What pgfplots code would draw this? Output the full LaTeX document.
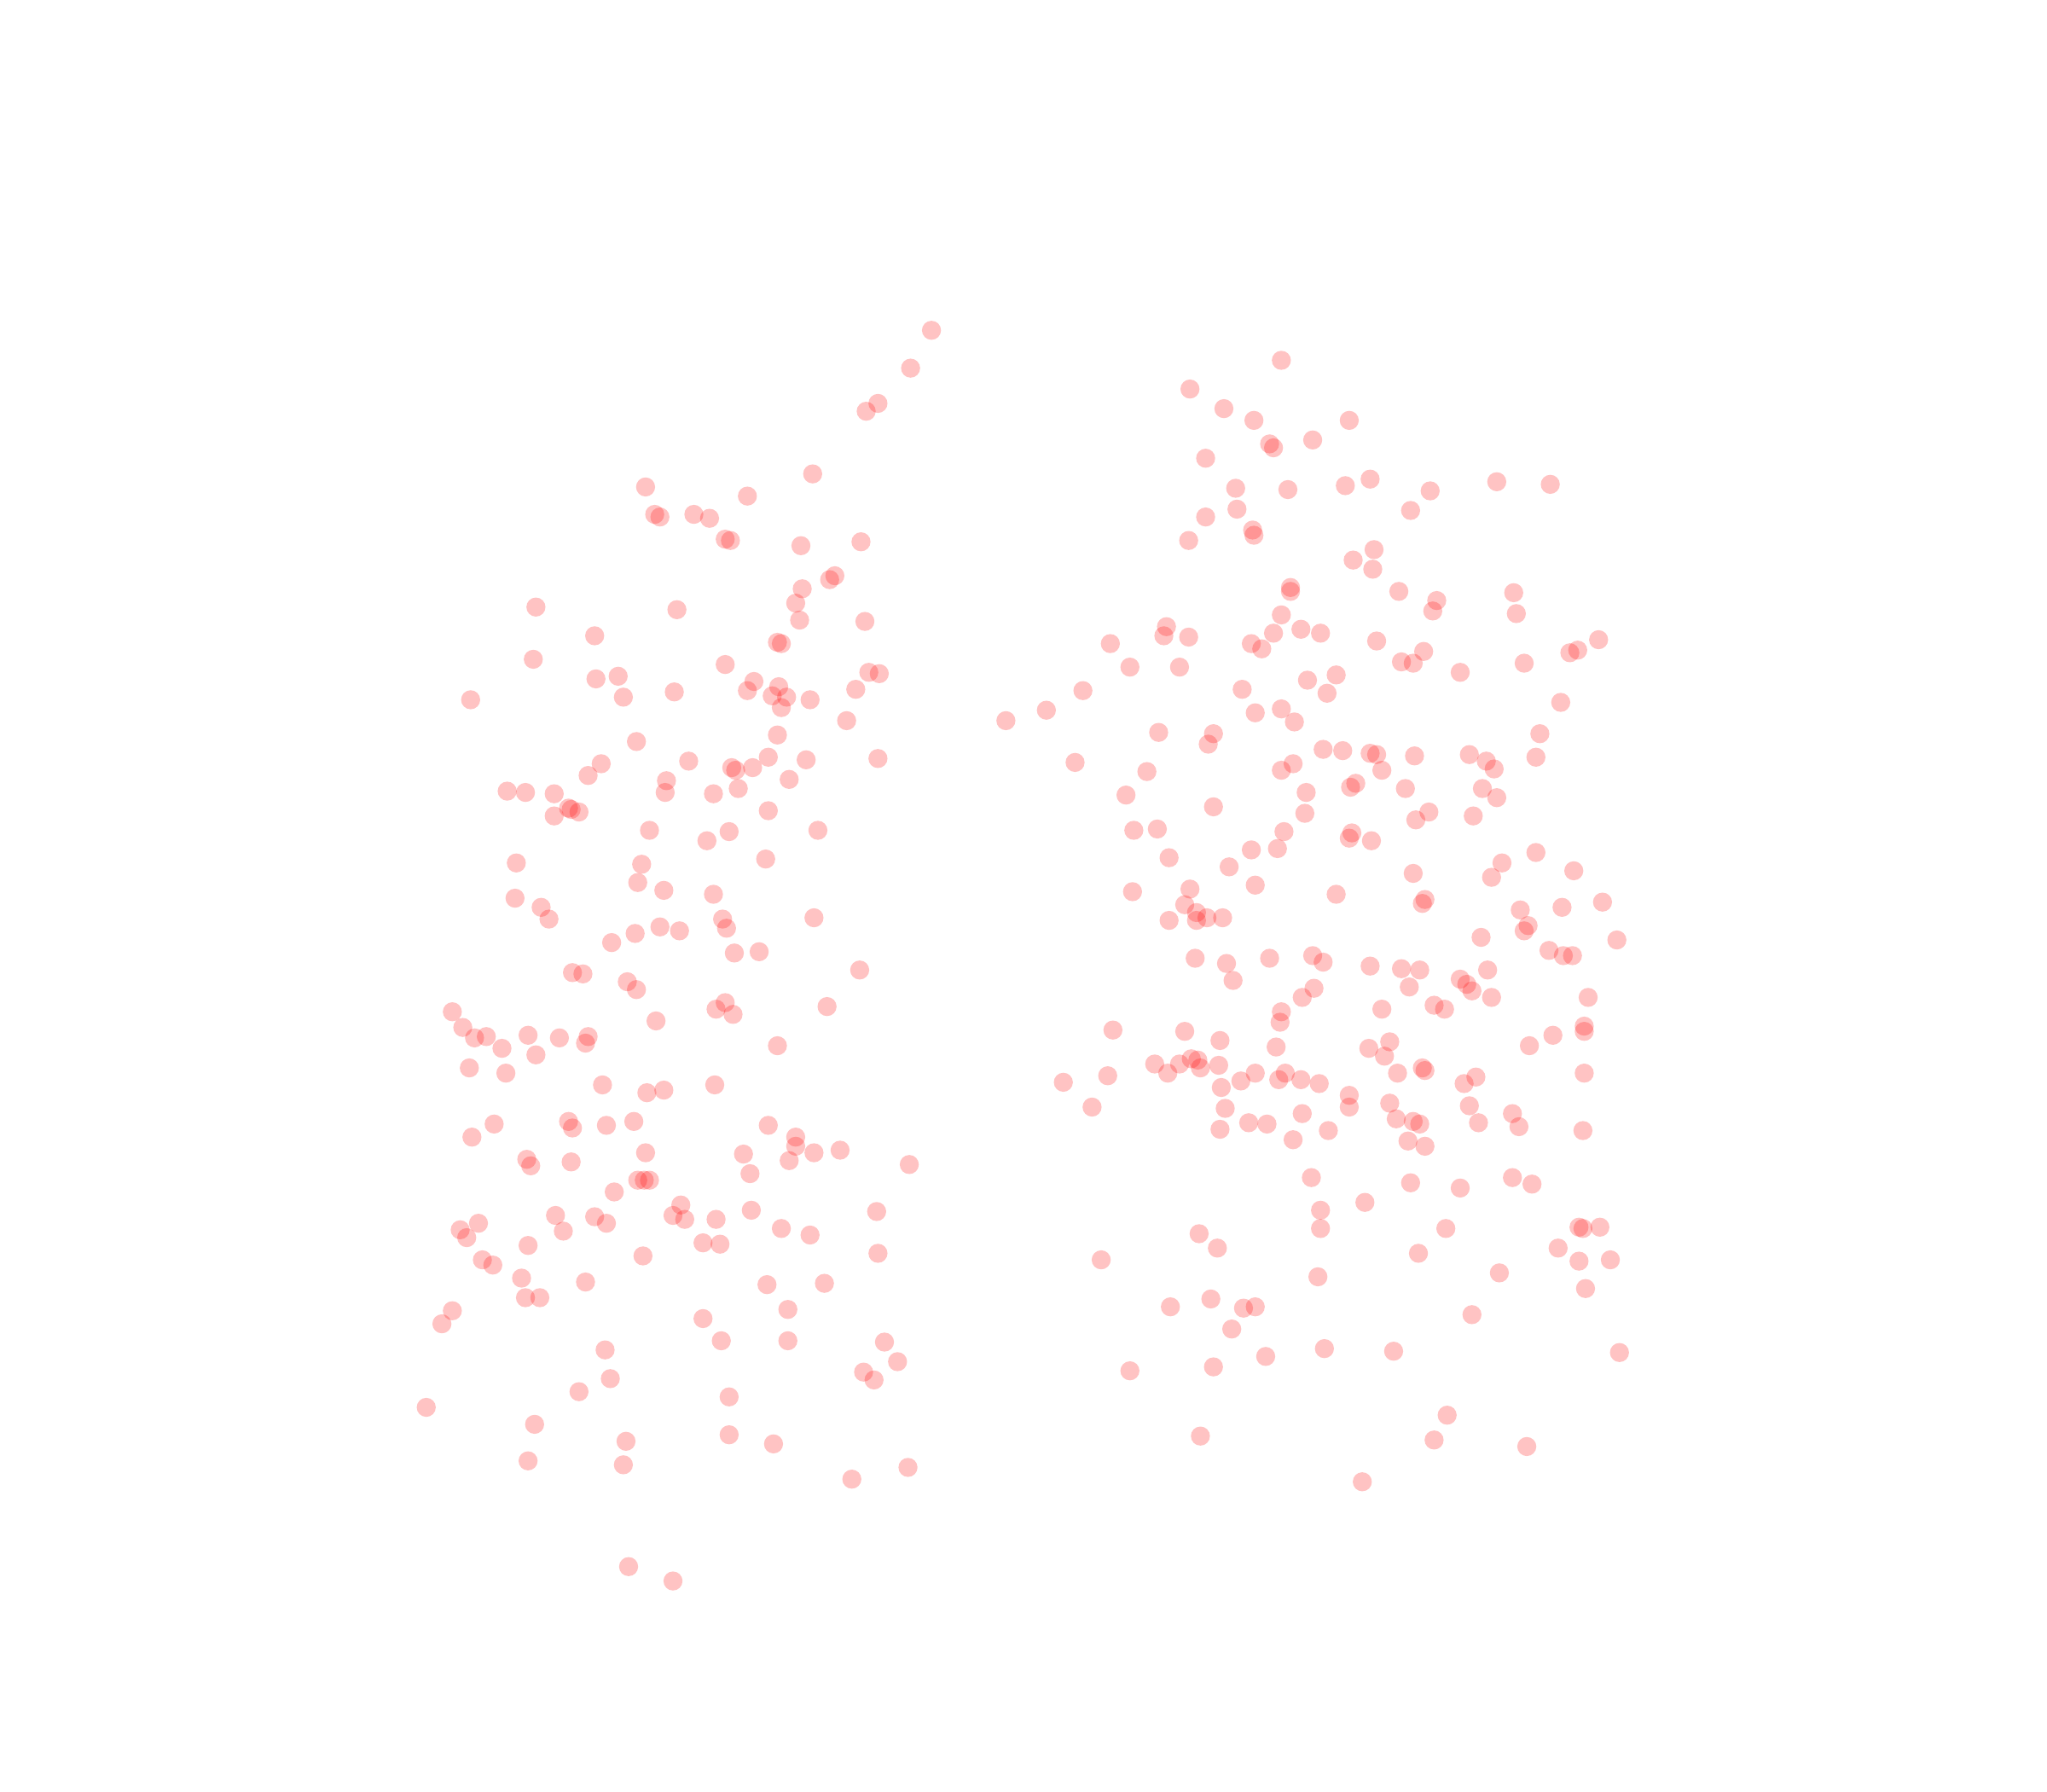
\documentclass[border=0pt]{standalone}
\usepackage{pgfplots}
\pgfplotsset{compat=1.18}
\begin{document}
\begin{tikzpicture}
\path[use as bounding box] (0,0) rectangle (16cm,14cm);
\begin{axis}[at={(0,0)},anchor=south west,width=16cm,height=14cm,scale only axis,hide axis,
 xmin=-0.5,xmax=1567.5,ymin=0,ymax=1372,y dir=reverse,clip=false]
\addplot[only marks,mark=*,mark size=2.12pt,mark options={draw opacity=0,fill=red,fill opacity=0.235}] table[row sep=crcr]{
713 253\\697 282\\672 309\\663 315\\622 363\\494 373\\572 380\\501 394\\505 396\\531 394\\543 397\\555 413\\559 414\\613 418\\659 415\\639 441\\635 444\\614 451\\609 462\\612 475\\662 476\\410 465\\518 467\\455 487\\595 492\\598 493\\408 505\\555 509\\665 515\\673 516\\456 520\\473 518\\477 534\\516 530\\577 522\\572 529\\596 526\\591 533\\602 534\\598 542\\620 536\\655 528\\360 536\\648 552\\595 563\\487 568\\672 581\\617 582\\588 580\\576 588\\560 588\\563 590\\527 583\\460 585\\450 594\\510 598\\604 597\\509 607\\546 608\\565 604\\388 606\\402 607\\424 608\\435 619\\437 620\\443 622\\424 625\\588 621\\497 636\\558 637\\541 644\\626 636\\586 658\\395 661\\491 662\\488 676\\508 682\\546 685\\394 688\\414 695\\420 704\\553 704\\556 711\\623 703\\505 710\\520 713\\486 715\\468 722\\562 730\\581 729\\438 745\\446 746\\658 743\\480 752\\487 758\\555 768\\548 773\\561 777\\633 771\\346 775\\354 787\\502 782\\363 795\\372 794\\404 793\\428 795\\450 794\\448 799\\384 803\\410 808\\595 801\\359 818\\387 822\\461 831\\495 837\\508 835\\547 831\\378 861\\435 859\\438 864\\464 862\\485 859\\588 862\\361 871\\609 871\\609 878\\643 881\\623 883\\569 884\\494 883\\604 889\\403 888\\406 893\\437 890\\696 892\\574 899\\488 904\\493 904\\497 904\\470 913\\521 923\\671 928\\425 931\\455 932\\464 937\\515 931\\524 934\\548 934\\575 927\\598 941\\620 946\\352 942\\366 937\\357 948\\431 943\\404 954\\538 952\\551 953\\672 960\\492 962\\369 965\\377 969\\399 979\\448 982\\587 984\\631 983\\402 994\\413 994\\603 1003\\346 1004\\338 1014\\538 1010\\552 1027\\603 1027\\677 1028\\463 1034\\687 1043\\661 1051\\669 1057\\467 1056\\443 1066\\558 1070\\326 1078\\409 1091\\558 1099\\479 1104\\592 1106\\404 1119\\477 1122\\695 1124\\652 1133\\481 1200\\515 1211\\
981 276\\911 298\\937 313\\960 322\\1033 322\\972 340\\975 343\\1005 337\\923 351\\1049 367\\1030 372\\946 374\\986 375\\1095 376\\1146 369\\1187 371\\947 390\\1080 391\\923 396\\959 406\\960 410\\910 414\\1052 421\\1036 429\\1051 436\\988 450\\988 453\\1071 453\\1159 454\\1100 460\\1097 468\\1161 470\\981 471\\893 480\\891 487\\910 488\\975 485\\996 482\\1011 485\\850 493\\958 493\\966 497\\1054 491\\1090 499\\1224 490\\1208 498\\1202 500\\1073 507\\1082 508\\1167 508\\865 511\\903 511\\1118 515\\1023 517\\1001 521\\951 528\\1016 531\\829 529\\1195 538\\801 544\\770 552\\961 546\\981 543\\991 553\\887 561\\929 562\\925 570\\1179 562\\1013 574\\1028 575\\1049 577\\1054 578\\1083 579\\1125 578\\1176 580\\1138 583\\1144 589\\823 584\\878 591\\981 590\\990 585\\1058 590\\1038 600\\1034 603\\1076 604\\1135 604\\862 609\\1000 607\\1146 611\\929 618\\999 623\\1094 622\\1128 625\\1084 628\\868 636\\886 635\\983 637\\1035 638\\1033 642\\1050 644\\958 651\\978 650\\1176 653\\895 657\\941 664\\1150 661\\1205 667\\1082 669\\1142 672\\961 678\\867 683\\911 681\\1023 685\\1091 689\\1089 692\\1227 691\\907 693\\916 699\\1164 697\\1196 695\\895 705\\916 705\\924 703\\936 703\\1170 709\\1167 713\\1134 718\\1238 720\\1186 728\\1197 732\\1204 732\\915 734\\939 738\\972 734\\1005 732\\1013 737\\1049 740\\1073 742\\1087 743\\1139 743\\944 751\\1118 750\\1123 754\\1127 759\\1079 756\\1006 757\\997 764\\1142 764\\1216 764\\981 775\\980 783\\1058 773\\1098 770\\1106 773\\1213 786\\1213 790\\852 789\\907 790\\934 797\\1189 793\\977 802\\1064 798\\1048 803\\1060 809\\1171 801\\912 811\\917 812\\884 815\\903 815\\933 816\\919 818\\894 822\\961 822\\984 822\\848 824\\1089 818\\1091 820\\1070 822\\1213 822\\1130 825\\814 829\\950 828\\979 827\\996 827\\1010 830\\1121 830\\935 833\\1033 839\\836 848\\938 849\\1033 848\\1064 845\\1125 847\\997 853\\1158 853\\1069 857\\956 860\\970 861\\1082 859\\1087 861\\1132 860\\1163 863\\934 865\\1017 866\\1212 866\\990 873\\1078 874\\1091 878\\1004 902\\1080 906\\1118 910\\1158 902\\1173 907\\1045 921\\1011 927\\1011 941\\1107 941\\918 945\\1209 940\\1212 941\\1225 940\\932 956\\1193 956\\1086 960\\843 965\\1209 966\\1233 965\\1148 975\\1009 978\\1214 987\\927 995\\896 1001\\952 1002\\961 1001\\1127 1007\\943 1018\\1014 1033\\1067 1035\\969 1039\\1240 1036\\929 1047\\865 1050\\1108 1084\\919 1100\\1098 1103\\1169 1108\\1043 1135\\
};
\end{axis}
\end{tikzpicture}
\end{document}
